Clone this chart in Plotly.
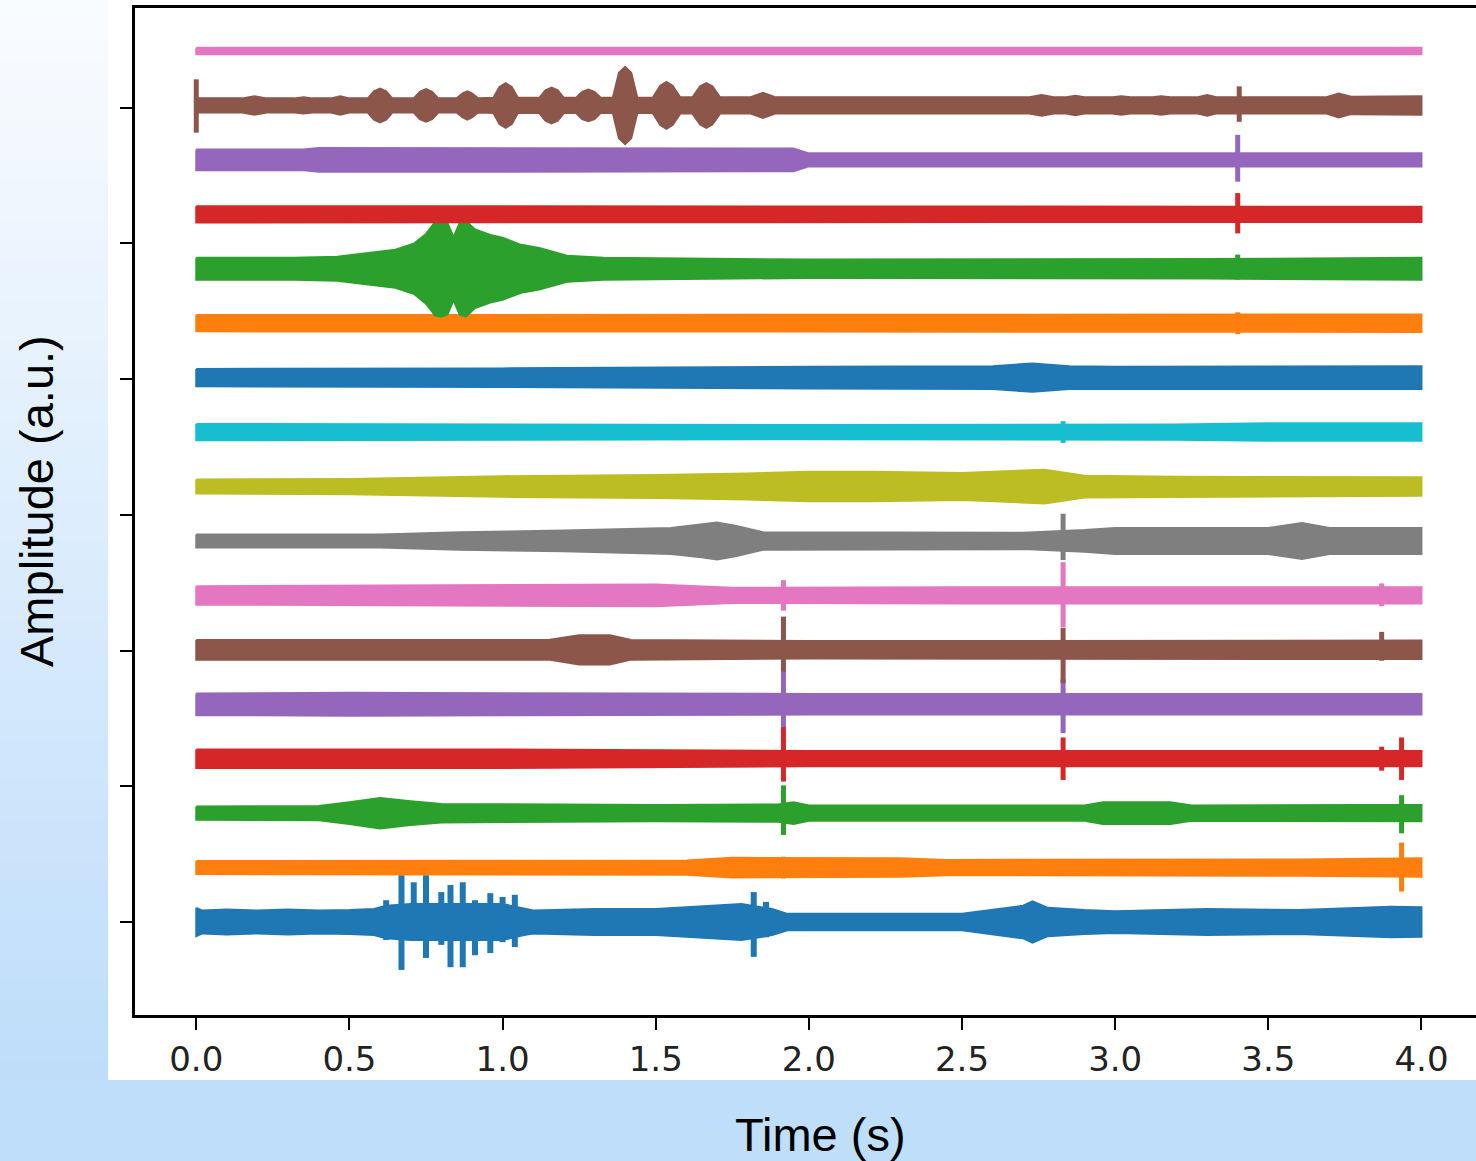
import plotly.graph_objects as go

# ---------------- data ----------------
x_tick_vals = [0.0, 0.5, 1.0, 1.5, 2.0, 2.5, 3.0, 3.5, 4.0]
x_tick_text = ["0.0", "0.5", "1.0", "1.5", "2.0", "2.5", "3.0", "3.5", "4.0"]
y_tick_vals = [0.0, 2.5, 4.98, 7.48, 9.97, 12.47, 14.95]

colors = ["#1f77b4", "#ff7f0e", "#2ca02c", "#d62728", "#9467bd",
          "#8c564b", "#e377c2", "#7f7f7f", "#bcbd22", "#17becf"]

# envelope: (time s, half amplitude) ; spikes: (time s, up, down)  -- trace offset = index
env_00 = [(0.00, 0.26), (0.02, 0.21), (0.10, 0.23), (0.20, 0.21), (0.30, 0.23), (0.40, 0.21),
          (0.50, 0.22), (0.58, 0.24), (0.62, 0.30), (0.70, 0.33), (1.00, 0.33), (1.07, 0.24),
          (1.10, 0.21), (1.30, 0.24), (1.50, 0.24), (1.60, 0.27), (1.70, 0.30), (1.78, 0.33),
          (1.88, 0.24), (1.93, 0.15), (2.50, 0.15), (2.60, 0.22), (2.70, 0.30), (2.73, 0.38),
          (2.78, 0.26), (2.90, 0.22), (3.00, 0.20), (3.30, 0.24), (3.60, 0.22), (3.90, 0.28),
          (4.00, 0.27)]
spk_00 = [(0.62, 0.40, 0.33), (0.67, 0.86, 0.88), (0.71, 0.73, 0.30), (0.75, 0.86, 0.66),
          (0.80, 0.55, 0.42), (0.83, 0.68, 0.83), (0.87, 0.73, 0.83), (0.91, 0.40, 0.61),
          (0.96, 0.53, 0.57), (1.00, 0.46, 0.37), (1.04, 0.50, 0.46), (1.82, 0.55, 0.64),
          (1.86, 0.37, 0.28)]

env_01 = [(0.00, 0.12), (1.60, 0.13), (1.75, 0.18), (2.30, 0.17), (2.45, 0.14), (3.60, 0.15), (4.00, 0.17)]
spk_01 = [(1.917, 0.20, 0.20), (3.935, 0.46, 0.44)]

env_02 = [(0.00, 0.12), (0.40, 0.13), (0.50, 0.20), (0.60, 0.28), (0.70, 0.22), (0.80, 0.17),
          (1.50, 0.15), (1.90, 0.16), (1.95, 0.20), (2.00, 0.14), (2.90, 0.14), (2.96, 0.20),
          (3.18, 0.20), (3.25, 0.14), (3.80, 0.15), (4.00, 0.15)]
spk_02 = [(1.917, 0.51, 0.40), (3.935, 0.33, 0.37)]

env_03 = [(0.00, 0.17), (1.00, 0.17), (2.00, 0.14), (4.00, 0.14)]
spk_03 = [(1.917, 0.59, 0.42), (2.83, 0.39, 0.39), (3.87, 0.22, 0.22), (3.935, 0.39, 0.39)]

env_04 = [(0.00, 0.20), (0.50, 0.21), (2.00, 0.19), (4.00, 0.19)]
spk_04 = [(1.917, 0.62, 0.42), (2.83, 0.46, 0.53)]

env_05 = [(0.00, 0.18), (1.15, 0.18), (1.25, 0.27), (1.35, 0.27), (1.42, 0.18), (2.00, 0.16), (4.00, 0.17)]
spk_05 = [(1.917, 0.61, 0.40), (2.83, 0.40, 0.61), (3.87, 0.33, 0.20)]

env_06 = [(0.00, 0.17), (0.90, 0.19), (1.50, 0.20), (1.75, 0.14), (2.50, 0.15), (4.00, 0.15)]
spk_06 = [(1.917, 0.28, 0.28), (2.83, 0.61, 0.59), (3.87, 0.22, 0.20)]

env_07 = [(0.00, 0.12), (0.60, 0.12), (0.86, 0.16), (1.20, 0.19), (1.55, 0.24), (1.65, 0.30),
          (1.70, 0.34), (1.76, 0.28), (1.85, 0.16), (2.70, 0.15), (2.90, 0.20), (3.00, 0.24),
          (3.50, 0.24), (3.61, 0.33), (3.70, 0.24), (4.00, 0.24)]
spk_07 = [(2.83, 0.50, 0.35)]

env_08 = [(0.00, 0.13), (0.50, 0.14), (1.00, 0.19), (1.50, 0.21), (1.80, 0.24), (2.00, 0.27),
          (2.20, 0.27), (2.50, 0.25), (2.77, 0.31), (2.90, 0.20), (3.20, 0.18), (3.60, 0.18),
          (4.00, 0.17)]
spk_08 = []

env_09 = [(0.00, 0.15), (2.00, 0.13), (3.20, 0.14), (3.50, 0.16), (4.00, 0.16)]
spk_09 = [(2.83, 0.20, 0.20)]

env_10 = [(0.00, 0.16), (1.00, 0.17), (2.00, 0.20), (2.60, 0.21), (2.73, 0.26), (2.85, 0.21),
          (3.00, 0.20), (4.00, 0.21)]
spk_10 = []

env_11 = [(0.00, 0.15), (2.00, 0.15), (4.00, 0.16)]
spk_11 = [(3.40, 0.20, 0.20)]

env_12 = [(0.00, 0.20), (0.32, 0.20), (0.46, 0.22), (0.56, 0.29), (0.65, 0.35), (0.71, 0.46),
          (0.75, 0.64), (0.78, 0.86), (0.80, 0.88), (0.82, 0.84), (0.84, 0.58), (0.86, 0.84),
          (0.88, 0.88), (0.91, 0.72), (0.96, 0.62), (1.00, 0.57), (1.06, 0.44), (1.12, 0.38),
          (1.21, 0.24), (1.33, 0.20), (2.00, 0.17), (3.30, 0.18), (4.00, 0.20)]
spk_12 = [(3.40, 0.26, 0.20)]

env_13 = [(0.00, 0.15), (4.00, 0.14)]
spk_13 = [(3.40, 0.39, 0.35)]

env_14 = [(0.00, 0.19), (0.35, 0.19), (0.40, 0.22), (1.95, 0.21), (2.00, 0.12), (4.00, 0.12)]
spk_14 = [(3.40, 0.46, 0.40)]

env_15 = [(0.00, 0.13), (0.15, 0.13), (0.19, 0.17), (0.23, 0.13), (0.32, 0.13), (0.35, 0.15),
          (0.38, 0.13), (0.44, 0.13), (0.47, 0.17), (0.50, 0.13), (0.56, 0.13), (0.58, 0.26),
          (0.60, 0.31), (0.62, 0.26), (0.64, 0.13), (0.71, 0.13), (0.73, 0.25), (0.75, 0.30),
          (0.77, 0.25), (0.79, 0.13), (0.85, 0.13), (0.87, 0.22), (0.885, 0.26), (0.90, 0.22),
          (0.92, 0.13), (0.97, 0.14), (0.99, 0.34), (1.01, 0.41), (1.03, 0.34), (1.05, 0.14),
          (1.12, 0.14), (1.14, 0.28), (1.16, 0.33), (1.18, 0.28), (1.20, 0.14), (1.24, 0.14),
          (1.26, 0.25), (1.28, 0.29), (1.30, 0.25), (1.32, 0.14), (1.36, 0.14), (1.38, 0.60),
          (1.40, 0.71), (1.42, 0.60), (1.44, 0.14), (1.49, 0.14), (1.515, 0.36), (1.535, 0.43),
          (1.555, 0.36), (1.58, 0.15), (1.62, 0.15), (1.645, 0.35), (1.665, 0.41), (1.685, 0.35),
          (1.71, 0.15), (1.81, 0.15), (1.85, 0.23), (1.89, 0.15), (2.72, 0.15), (2.76, 0.19),
          (2.80, 0.15), (2.84, 0.15), (2.87, 0.18), (2.90, 0.15), (2.99, 0.15), (3.02, 0.17),
          (3.05, 0.15), (3.12, 0.15), (3.15, 0.17), (3.18, 0.15), (3.27, 0.15), (3.30, 0.19),
          (3.33, 0.15), (3.69, 0.15), (3.73, 0.22), (3.77, 0.16), (4.00, 0.17)]
spk_15 = [(0.00, 0.48, 0.50), (3.405, 0.35, 0.30)]

env_16 = [(0.00, 0.06), (4.00, 0.06)]
spk_16 = []

envelopes = [env_00, env_01, env_02, env_03, env_04, env_05, env_06, env_07, env_08,
             env_09, env_10, env_11, env_12, env_13, env_14, env_15, env_16]
spikes = [spk_00, spk_01, spk_02, spk_03, spk_04, spk_05, spk_06, spk_07, spk_08,
          spk_09, spk_10, spk_11, spk_12, spk_13, spk_14, spk_15, spk_16]

# ---------------- figure ----------------
W, H = 1476, 1161
L, R, T, B = 135, 0, 8, 146
PW, PH = W - L - R, H - T - B


def xp(px):
    return (px - L) / PW


def yp(py):
    return (H - B - py) / PH


fig = go.Figure()
for i, (env, spk) in enumerate(zip(envelopes, spikes)):
    c = colors[i % 10]
    ts = [p[0] for p in env]
    hs = [p[1] for p in env]
    xs = ts + ts[::-1] + [ts[0]]
    ys = [i + h for h in hs] + [i - h for h in hs[::-1]] + [i + hs[0]]
    fig.add_trace(go.Scatter(x=xs, y=ys, mode="lines", fill="toself", fillcolor=c,
                             line=dict(color=c, width=2), hoverinfo="skip", showlegend=False))
    if spk:
        sx, sy = [], []
        for (t, up, dn) in spk:
            sx += [t, t, None]
            sy += [i + up, i - dn, None]
        fig.add_trace(go.Scatter(x=sx, y=sy, mode="lines",
                                 line=dict(color=c, width=6 if i == 0 else 5),
                                 hoverinfo="skip", showlegend=False))

shapes = []
# left gradient strip
top_c = (250, 252, 255)
bot_c = (190, 221, 250)
n_bands = 54
for k in range(n_bands):
    f = (k + 0.5) / n_bands
    col = "rgb(%d,%d,%d)" % tuple(round(top_c[j] + (bot_c[j] - top_c[j]) * f) for j in range(3))
    y0 = 1080 * k / n_bands
    y1 = 1080 * (k + 1) / n_bands + 1
    shapes.append(dict(type="rect", xref="paper", yref="paper", layer="below",
                       x0=xp(0), x1=xp(108), y0=yp(y0), y1=yp(y1),
                       fillcolor=col, line=dict(width=0)))
# white figure area
shapes.append(dict(type="rect", xref="paper", yref="paper", layer="below",
                   x0=xp(108), x1=xp(W), y0=yp(0), y1=yp(1080),
                   fillcolor="white", line=dict(width=0)))

fig.update_layout(
    width=W, height=H,
    margin=dict(l=L, r=R, t=T, b=B, pad=0),
    paper_bgcolor="#bedefa",
    plot_bgcolor="white",
    shapes=shapes,
    showlegend=False,
    xaxis=dict(range=[-0.2, 4.178], tickvals=x_tick_vals, ticktext=x_tick_text,
               ticks="outside", ticklen=12, tickwidth=2, tickcolor="black",
               showline=True, linecolor="black", linewidth=2.5, mirror=True,
               showgrid=False, zeroline=False,
               tickfont=dict(family="DejaVu Sans", size=34, color="#222222")),
    yaxis=dict(range=[-1.708, 16.79], tickvals=y_tick_vals, showticklabels=False,
               ticks="outside", ticklen=12, tickwidth=2, tickcolor="black",
               showline=True, linecolor="black", linewidth=2.5, mirror=False,
               showgrid=False, zeroline=False),
    annotations=[
        dict(text="Time (s)", xref="paper", yref="paper", x=xp(820), y=yp(1134),
             xanchor="center", yanchor="middle", showarrow=False,
             font=dict(family="Liberation Sans, Arial", size=47, color="black")),
        dict(text="Amplitude (a.u.)", xref="paper", yref="paper", x=xp(36), y=yp(501),
             xanchor="center", yanchor="middle", textangle=-90, showarrow=False,
             font=dict(family="Liberation Sans, Arial", size=47, color="black")),
    ],
)

fig.write_html("out.html")
